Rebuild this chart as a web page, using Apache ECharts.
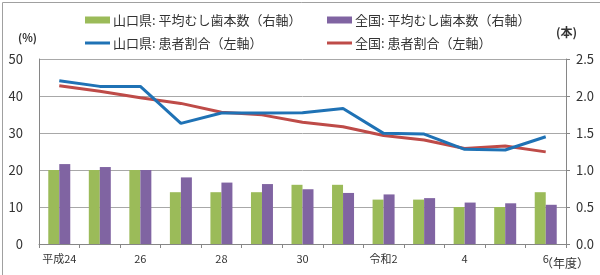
<!DOCTYPE html>
<html lang="ja">
<head>
<meta charset="UTF-8">
<script src="https://cdn.jsdelivr.net/npm/echarts@6/dist/echarts.min.js"></script>
<title>むし歯</title>
<style>
  body { margin: 0; padding: 0; background: #fff; }
  #chart { width: 600px; height: 275px; }
</style>
</head>
<body>
<div id="chart"></div>
<script>
  // 年度
  const years = ['平成24', '25', '26', '27', '28', '29', '30', '令和元', '令和2', '3', '4', '5', '6'];
  // 平均むし歯本数（右軸）
  const yamaguchiTeeth = [1.0, 1.0, 1.0, 0.7, 0.7, 0.7, 0.8, 0.8, 0.6, 0.6, 0.5, 0.5, 0.7];
  const zenkokuTeeth = [1.08, 1.04, 1.0, 0.9, 0.83, 0.81, 0.74, 0.69, 0.67, 0.62, 0.56, 0.55, 0.53];
  // 患者割合（左軸）
  const yamaguchiRate = [44.1, 42.6, 42.6, 32.6, 35.4, 35.4, 35.5, 36.6, 29.9, 29.7, 25.6, 25.4, 29.0];
  const zenkokuRate = [42.8, 41.3, 39.5, 38.0, 35.6, 34.9, 32.9, 31.7, 29.3, 28.1, 25.8, 26.5, 24.9];

  const green = '#9BBB59';
  const purple = '#8064A2';
  const blue = '#1F72B5';
  const red = '#BE4B48';
  const font = '"Noto Sans CJK JP", sans-serif';

  const chart = echarts.init(document.getElementById('chart'));

  function legendOf(name, left, top, h) {
    return {
      data: [name],
      left: left,
      top: top,
      icon: 'rect',
      itemWidth: 25,
      itemHeight: h,
      itemGap: 0,
      padding: 0,
      textStyle: { fontFamily: font, fontSize: 13, lineHeight: 16, color: '#333', padding: [0, 0, 0, -2] }
    };
  }

  const option = {
    animation: false,
    textStyle: { fontFamily: font },
    legend: [
      legendOf('山口県: 平均むし歯本数（右軸）', 85, 12, 7),
      legendOf('全国: 平均むし歯本数（右軸）', 327, 12, 7),
      legendOf('山口県: 患者割合（左軸）', 85, 35, 3),
      legendOf('全国: 患者割合（左軸）', 327, 35, 3)
    ],
    grid: { left: 39, right: 34, top: 59, bottom: 31 },
    xAxis: {
      type: 'category',
      data: years,
      axisLine: { lineStyle: { color: '#868686' } },
      axisTick: { show: true, interval: 0, length: 4, lineStyle: { color: '#868686' } },
      axisLabel: { interval: 1, color: '#333', fontSize: 11, margin: 9 }
    },
    yAxis: [
      {
        type: 'value', min: 0, max: 50, interval: 10,
        axisLine: { show: true, lineStyle: { color: '#868686' } },
        axisTick: { show: false },
        axisLabel: { color: '#333', fontSize: 13, margin: 16 },
        splitLine: { lineStyle: { color: '#A8A8A8' } }
      },
      {
        type: 'value', min: 0, max: 2.5, interval: 0.5,
        axisLine: { show: true, lineStyle: { color: '#868686' } },
        axisTick: { show: true, length: 4, lineStyle: { color: '#868686' } },
        axisLabel: { color: '#333', fontSize: 13, margin: 10, formatter: v => v.toFixed(1) },
        splitLine: { show: false }
      }
    ],
    series: [
      {
        name: '山口県: 平均むし歯本数（右軸）', type: 'bar', yAxisIndex: 1,
        data: yamaguchiTeeth, itemStyle: { color: green },
        barWidth: 11, barGap: '0%'
      },
      {
        name: '全国: 平均むし歯本数（右軸）', type: 'bar', yAxisIndex: 1,
        data: zenkokuTeeth, itemStyle: { color: purple },
        barWidth: 11, barGap: '0%'
      },
      {
        name: '山口県: 患者割合（左軸）', type: 'line', yAxisIndex: 0,
        data: yamaguchiRate, symbol: 'none',
        lineStyle: { color: blue, width: 3 }, itemStyle: { color: blue }, z: 4
      },
      {
        name: '全国: 患者割合（左軸）', type: 'line', yAxisIndex: 0,
        data: zenkokuRate, symbol: 'none',
        lineStyle: { color: red, width: 3 }, itemStyle: { color: red }, z: 3
      }
    ],
    graphic: [
      {
        type: 'rect', left: 0, top: 0, z: 100, silent: true,
        shape: { width: 599, height: 274 },
        style: { fill: 'none', stroke: '#A0A0A0', lineWidth: 1 },
        position: [0.5, 0.5]
      },
      { type: 'text', left: 18, top: 32, style: { text: '(%)', font: 'bold 11px ' + font, fill: '#333' } },
      { type: 'text', left: 556, top: 26, style: { text: '(本)', font: 'bold 12px ' + font, fill: '#333' } },
      { type: 'text', left: 541, top: 257, style: { text: '（年度）', font: '12px ' + font, fill: '#333' } }
    ]
  };

  chart.setOption(option);
</script>
</body>
</html>
